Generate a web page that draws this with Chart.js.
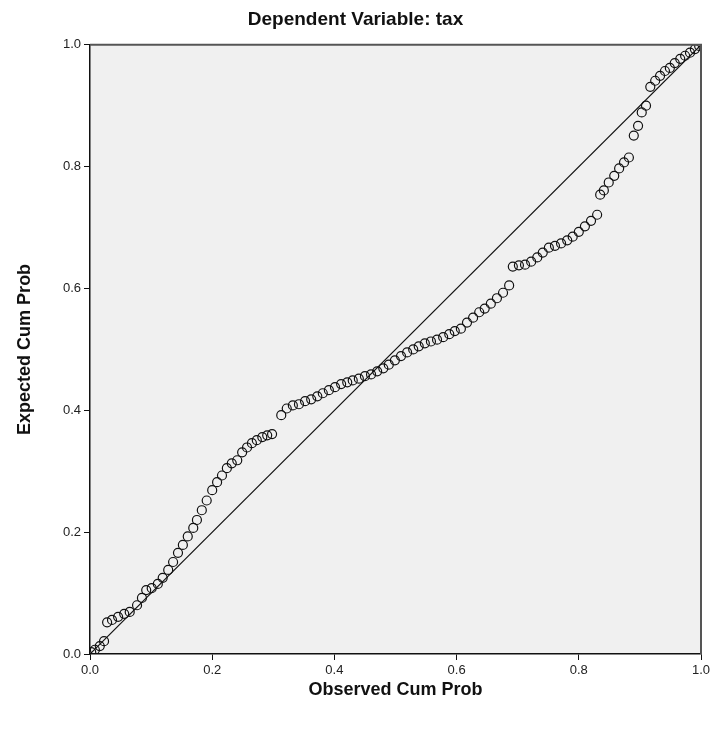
<!DOCTYPE html>
<html lang="en">
<head>
  <meta charset="UTF-8" />
  <title>P-P Plot: tax</title>
  <script src="https://cdn.jsdelivr.net/npm/chart.js"></script>
  <style>
    html, body { margin: 0; padding: 0; background: #fff; }
    #wrap { width: 715px; height: 729px; }
  </style>
</head>
<body>
  <div id="wrap"><canvas id="ppChart" width="715" height="729"></canvas></div>

  <script>
    // observed vs expected cumulative probability
    const observed = [
      0.002, 0.008, 0.016, 0.023, 0.028, 0.036, 0.046, 0.056, 0.065, 0.077,
      0.085, 0.092, 0.101, 0.111, 0.119, 0.128, 0.136, 0.144, 0.152, 0.160,
      0.169, 0.175, 0.183, 0.191, 0.200, 0.208, 0.216, 0.224, 0.232, 0.241,
      0.249, 0.257, 0.265, 0.273, 0.282, 0.290, 0.298, 0.313, 0.322, 0.332,
      0.342, 0.352, 0.362, 0.372, 0.381, 0.391, 0.401, 0.411, 0.421, 0.430,
      0.440, 0.450, 0.460, 0.470, 0.480, 0.489, 0.499, 0.509, 0.519, 0.529,
      0.538, 0.548, 0.558, 0.568, 0.578, 0.588, 0.597, 0.607, 0.617, 0.627,
      0.637, 0.646, 0.656, 0.666, 0.676, 0.686, 0.692, 0.702, 0.712, 0.722,
      0.732, 0.741, 0.751, 0.761, 0.771, 0.781, 0.790, 0.800, 0.810, 0.820,
      0.830, 0.835, 0.841, 0.849, 0.858, 0.866, 0.874, 0.882, 0.890, 0.897,
      0.903, 0.910, 0.917, 0.925, 0.933, 0.941, 0.949, 0.957, 0.966, 0.974,
      0.982, 0.990, 0.997
    ];
    const expected = [
      0.003, 0.007, 0.013, 0.021, 0.052, 0.056, 0.061, 0.066, 0.069, 0.080,
      0.092, 0.105, 0.108, 0.115, 0.125, 0.138, 0.151, 0.166, 0.179, 0.193,
      0.207, 0.220, 0.236, 0.252, 0.269, 0.282, 0.293, 0.305, 0.313, 0.318,
      0.331, 0.339, 0.346, 0.351, 0.356, 0.359, 0.361, 0.392, 0.403, 0.408,
      0.410, 0.415, 0.418, 0.423, 0.428, 0.433, 0.438, 0.443, 0.446, 0.449,
      0.452, 0.456, 0.459, 0.464, 0.469, 0.475, 0.482, 0.489, 0.495, 0.500,
      0.505, 0.510, 0.513, 0.516, 0.520, 0.525, 0.530, 0.534, 0.544, 0.552,
      0.561, 0.567, 0.575, 0.584, 0.593, 0.605, 0.636, 0.638, 0.639, 0.644,
      0.651, 0.659, 0.667, 0.670, 0.674, 0.679, 0.685, 0.693, 0.702, 0.711,
      0.721, 0.754, 0.761, 0.774, 0.785, 0.797, 0.807, 0.815, 0.851, 0.867,
      0.889, 0.900, 0.931, 0.941, 0.949, 0.957, 0.962, 0.970, 0.977, 0.982,
      0.987, 0.993, 0.998
    ];
    // reference diagonal
    const diagX = [0, 1];
    const diagY = [0, 1];
    const tickValues = [0, 0.2, 0.4, 0.6, 0.8, 1.0];

    const plotBackground = {
      id: "plotBackground",
      beforeDraw(chart) {
        const { ctx, chartArea: a } = chart;
        ctx.save();
        ctx.fillStyle = "#f0f0f0";
        ctx.fillRect(a.left, a.top, a.right - a.left, a.bottom - a.top);
        ctx.restore();
      },
      afterDraw(chart) {
        const { ctx, chartArea: a } = chart;
        ctx.save();
        ctx.strokeStyle = "#555";
        ctx.lineWidth = 2;
        ctx.beginPath();
        ctx.moveTo(a.left, a.top);
        ctx.lineTo(a.right, a.top);
        ctx.lineTo(a.right, a.bottom);
        ctx.stroke();
        ctx.restore();
      }
    };

    const axisTicks = {
      stepSize: 0.2,
      color: "#222",
      font: { family: "Liberation Sans, Arial, sans-serif", size: 13 },
      callback: v => v.toFixed(1)
    };

    const ctx = document.getElementById("ppChart").getContext("2d");
    new Chart(ctx, {
      type: "scatter",
      data: {
        datasets: [
          {
            label: "Observed",
            data: observed.map((x, i) => ({ x: x, y: expected[i] })),
            pointRadius: 4.5,
            pointBorderWidth: 1.2,
            pointBorderColor: "#111",
            pointBackgroundColor: "rgba(0,0,0,0)",
            order: 1
          },
          {
            type: "line",
            label: "Diagonal",
            data: diagX.map((x, i) => ({ x: x, y: diagY[i] })),
            borderColor: "#111",
            borderWidth: 1.2,
            pointRadius: 0,
            order: 2
          }
        ]
      },
      options: {
        responsive: false,
        animation: false,
        layout: { padding: { top: 0, right: 14, bottom: 24, left: 10 } },
        plugins: {
          legend: { display: false },
          tooltip: { enabled: false },
          title: {
            display: true,
            text: "Dependent Variable: tax",
            color: "#111",
            font: { family: "Liberation Sans, Arial, sans-serif", size: 19, weight: "bold" },
            padding: { top: 8, bottom: 14 }
          }
        },
        scales: {
          x: {
            type: "linear",
            min: 0,
            max: 1,
            afterBuildTicks: s => { s.ticks = tickValues.map(v => ({ value: v })); },
            ticks: axisTicks,
            grid: { drawOnChartArea: false, drawTicks: true, tickLength: 6, color: "#111" },
            border: { color: "#111", width: 1.5 },
            title: {
              display: true,
              text: "Observed Cum Prob",
              color: "#111",
              font: { family: "Liberation Sans, Arial, sans-serif", size: 18, weight: "bold" },
              padding: { top: 12 }
            },
            afterFit: s => { s.height = 51; }
          },
          y: {
            type: "linear",
            min: 0,
            max: 1,
            afterBuildTicks: s => { s.ticks = tickValues.map(v => ({ value: v })); },
            ticks: axisTicks,
            grid: { drawOnChartArea: false, drawTicks: true, tickLength: 6, color: "#111" },
            border: { color: "#111", width: 1.5 },
            title: {
              display: true,
              text: "Expected Cum Prob",
              color: "#111",
              font: { family: "Liberation Sans, Arial, sans-serif", size: 18, weight: "bold" },
              padding: { bottom: 14 }
            },
            afterFit: s => { s.width = 80; }
          }
        }
      },
      plugins: [plotBackground]
    });
  </script>
</body>
</html>
